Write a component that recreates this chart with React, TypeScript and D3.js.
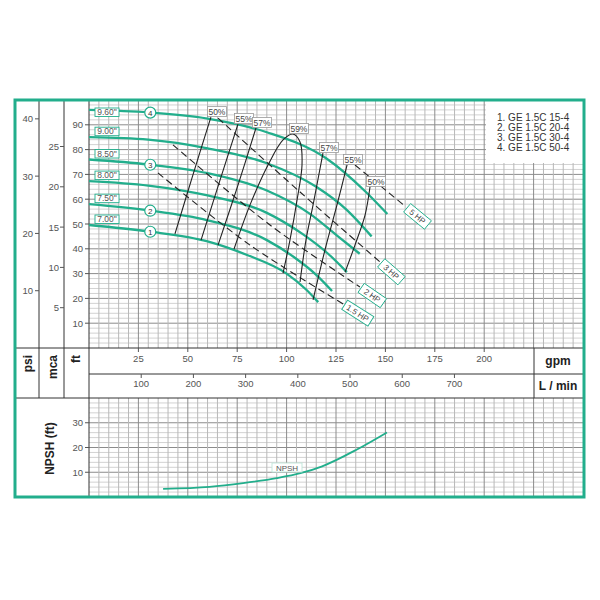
import React from 'react';
import * as d3 from 'd3';

type P = [number, number];

// ---------- data ----------
const gpmTicks = [25, 50, 75, 100, 125, 150, 175, 200];
const lminTicks = [100, 200, 300, 400, 500, 600, 700];
const psiTicks = [10, 20, 30, 40];
const mcaTicks = [5, 10, 15, 20, 25];
const ftTicks = [10, 20, 30, 40, 50, 60, 70, 80, 90];
const npshTicks = [10, 20, 30];

const diameters = ['9.60"', '9.00"', '8.50"', '8.00"', '7.50"', '7.00"'];
const curveNumbers = ['4', '', '3', '', '2', '1'];

const curve960: P[] = [[0, 96], [30, 95], [60, 92.5], [90, 87], [120, 76.5], [140, 63], [151, 54]];
const curve900: P[] = [[0, 85], [30, 84], [60, 80.5], [90, 74.5], [115, 65], [130, 56], [143, 45]];
const curve850: P[] = [[0, 76], [30, 74], [60, 70.5], [90, 63.5], [112, 54], [126, 45], [137, 38]];
const curve800: P[] = [[0, 67.3], [30, 65.5], [60, 61.5], [90, 54.5], [108, 46], [121, 38], [130.5, 30.6]];
const curve750: P[] = [[0, 58], [30, 55.5], [60, 51.5], [90, 43.5], [104, 36.5], [115, 29.5], [123, 23]];
const curve700: P[] = [[0, 49.6], [30, 47], [60, 43], [80, 37.5], [100, 30], [110, 23.5], [116, 18.5]];
const headCurves = [curve960, curve900, curve850, curve800, curve750, curve700];

const effLabels = ['50%', '55%', '57%', '59%', '57%', '55%', '50%'];
const eff50L: P[] = [[61.7, 93.1], [52.6, 69.8], [43.5, 46]];
const eff55L: P[] = [[75.4, 90.3], [66.3, 67.7], [56.7, 43.5]];
const eff57L: P[] = [[84.5, 88.7], [75.4, 65.7], [65.3, 41.5]];
const eff59: P[] = [[73.4, 39.9], [81.5, 57.7], [90.6, 73.8], [98.2, 83.9], [103.2, 86.3], [106.8, 83.1], [107.8, 73.8], [105.3, 59.7], [101.7, 43.5], [98.2, 30.2]];
const eff57R: P[] = [[118.4, 78.6], [113.4, 57.7], [109.8, 43.5], [106.8, 26.6]];
const eff55R: P[] = [[130.6, 73.8], [125.5, 57.7], [119.4, 39.5], [113.4, 19.4]];
const eff50R: P[] = [[142.2, 64.9], [139.7, 53.6], [134.6, 41.5], [129.6, 30.6]];
const effCurves = [eff50L, eff55L, eff57L, eff59, eff57R, eff55R, eff50R];

const hpLabels = ['5 HP', '3 HP', '2 HP', '1.5 HP'];
const hp5: P[] = [[134.6, 73.8], [160.4, 56.9]];
const hp3: P[] = [[65.3, 92.7], [106.8, 62.9], [147.3, 34.7]];
const hp2: P[] = [[42.5, 81.9], [91.6, 49.6], [137.1, 24.6]];
const hp15: P[] = [[34.9, 70.6], [81.5, 41.5], [129.6, 17.3]];
const hpCurves = [hp5, hp3, hp2, hp15];

const npshCurve: P[] = [[37.5, 3.3], [61, 4.1], [78, 5.6], [95, 7.6], [107, 9.6], [118, 12.4], [135.6, 19.2], [150.8, 26.1]];

const legendItems = ['1. GE 1.5C 15-4', '2. GE 1.5C 20-4', '3. GE 1.5C 30-4', '4. GE 1.5C 50-4'];

// ---------- styles ----------
const GREEN = '#22ae8c';
const FONT = 'Liberation Sans, Arial, sans-serif';
const TXT = '#555';

export default function App() {
  const L = 89, R = 583, TOP = 100, BOT = 348;
  const NTOP = 398, NBOT = 497;
  const x = d3.scaleLinear().domain([0, 250]).range([L, R]);
  const xL = d3.scaleLinear().domain([0, 250 * 3.785]).range([L, R]);
  const yFt = d3.scaleLinear().domain([0, 100]).range([BOT, TOP]);
  const yPsi = d3.scaleLinear().domain([0, 100 / 2.31]).range([BOT, TOP]);
  const yMca = d3.scaleLinear().domain([0, 100 / 3.25]).range([BOT, TOP]);
  const yN = d3.scaleLinear().domain([0, 40]).range([NBOT, NTOP]);

  const lineHead = d3.line<P>().x(d => x(d[0])).y(d => yFt(d[1])).curve(d3.curveMonotoneX);
  const lineFt = d3.line<P>().x(d => x(d[0])).y(d => yFt(d[1])).curve(d3.curveCatmullRom.alpha(0.5));
  const lineN = d3.line<P>().x(d => x(d[0])).y(d => yN(d[1])).curve(d3.curveMonotoneX);

  const vGrid = d3.range(5, 250, 5);
  const hGrid = d3.range(2, 100, 2);
  const nGrid = d3.range(2, 40, 2);

  const interp = (pts: P[], q: number) => {
    for (let i = 0; i < pts.length - 1; i++) {
      if (q >= pts[i][0] && q <= pts[i + 1][0]) {
        const t = (q - pts[i][0]) / (pts[i + 1][0] - pts[i][0]);
        return pts[i][1] + t * (pts[i + 1][1] - pts[i][1]);
      }
    }
    return pts[pts.length - 1][1];
  };

  return (
    <svg width={600} height={600} style={{ position: 'absolute', left: 0, top: 0, background: '#fff' }} fontFamily={FONT}>
      <rect x={0} y={0} width={600} height={600} fill="#fff" />
      {/* main grid */}
      <g>
        {hGrid.map(v => (
          <line key={'h' + v} x1={L} x2={R} y1={yFt(v)} y2={yFt(v)} stroke={v % 10 === 0 ? '#8c8c8c' : '#d2d2d2'} strokeWidth={1} />
        ))}
        {vGrid.map(v => (
          <line key={'v' + v} x1={x(v)} x2={x(v)} y1={TOP} y2={BOT} stroke={v % 25 === 0 ? '#8c8c8c' : '#b8b8b8'} strokeWidth={1} />
        ))}
      </g>
      {/* NPSH grid */}
      <g>
        {nGrid.map(v => (
          <line key={'nh' + v} x1={L} x2={R} y1={yN(v)} y2={yN(v)} stroke={v % 10 === 0 ? '#8c8c8c' : '#d2d2d2'} strokeWidth={1} />
        ))}
        {vGrid.map(v => (
          <line key={'nv' + v} x1={x(v)} x2={x(v)} y1={NTOP} y2={NBOT} stroke={v % 25 === 0 ? '#8c8c8c' : '#b8b8b8'} strokeWidth={1} />
        ))}
      </g>
      {/* legend */}
      <rect x={486} y={101} width={97} height={62} fill="#fff" />
      {legendItems.map((t, i) => (
        <text key={t} x={497} y={121 + i * 10} fontSize={10} fill="#333">{t}</text>
      ))}

      {/* structure lines */}
      <g stroke="#333" strokeWidth={1}>
        <line x1={15} x2={584} y1={BOT} y2={BOT} />
        <line x1={L} x2={584} y1={374} y2={374} />
        <line x1={15} x2={584} y1={NTOP} y2={NTOP} />
        <line x1={39} x2={39} y1={TOP} y2={NTOP} />
        <line x1={64} x2={64} y1={TOP} y2={NTOP} />
        <line x1={L} x2={L} y1={TOP} y2={NBOT} />
        <line x1={534} x2={534} y1={BOT} y2={NTOP} />
      </g>

      {/* axes */}
      <g fontSize={9.5} fill={TXT}>
        {psiTicks.map(v => (
          <g key={'psi' + v}>
            <line x1={35} x2={39} y1={yPsi(v)} y2={yPsi(v)} stroke="#555" />
            <text x={33} y={yPsi(v) + 3.5} textAnchor="end">{v}</text>
          </g>
        ))}
        {mcaTicks.map(v => (
          <g key={'mca' + v}>
            <line x1={60} x2={64} y1={yMca(v)} y2={yMca(v)} stroke="#555" />
            <text x={59} y={yMca(v) + 3.5} textAnchor="end">{v}</text>
          </g>
        ))}
        {ftTicks.map(v => (
          <g key={'ft' + v}>
            <line x1={85} x2={89} y1={yFt(v)} y2={yFt(v)} stroke="#555" />
            <text x={83} y={yFt(v) + 3.5} textAnchor="end">{v}</text>
          </g>
        ))}
        {npshTicks.map(v => (
          <g key={'n' + v}>
            <line x1={85} x2={89} y1={yN(v)} y2={yN(v)} stroke="#555" />
            <text x={83} y={yN(v) + 3.5} textAnchor="end">{v}</text>
          </g>
        ))}
        {gpmTicks.map(v => (
          <g key={'g' + v}>
            <line x1={x(v)} x2={x(v)} y1={BOT} y2={BOT + 4} stroke="#555" />
            <text x={x(v)} y={361.5} textAnchor="middle">{v}</text>
          </g>
        ))}
        {lminTicks.map(v => (
          <g key={'l' + v}>
            <line x1={xL(v)} x2={xL(v)} y1={374} y2={378} stroke="#555" />
            <text x={xL(v)} y={387} textAnchor="middle">{v}</text>
          </g>
        ))}
      </g>

      {/* axis titles */}
      <g fontSize={12} fontWeight="bold" fill="#222">
        <text transform="translate(31.5,355) rotate(-90)" textAnchor="end">psi</text>
        <text transform="translate(56.5,355) rotate(-90)" textAnchor="end">mca</text>
        <text transform="translate(79.5,355) rotate(-90)" textAnchor="end">ft</text>
        <text transform="translate(54,448.5) rotate(-90)" textAnchor="middle">NPSH (ft)</text>
        <text x={558} y={365} textAnchor="middle">gpm</text>
        <text x={558} y={390} textAnchor="middle">L / min</text>
      </g>

      {/* head curves */}
      {headCurves.map((c, i) => (
        <path key={'hc' + i} d={lineHead(c) || ''} fill="none" stroke={GREEN} strokeWidth={2.3} />
      ))}

      {/* HP dashed lines */}
      {hpCurves.map((c, i) => (
        <path key={'hp' + i} d={lineFt(c) || ''} fill="none" stroke="#222" strokeWidth={1.1} strokeDasharray="7,4" />
      ))}

      {/* efficiency lines */}
      {effCurves.map((c, i) => (
        <path key={'ef' + i} d={lineFt(c) || ''} fill="none" stroke="#222" strokeWidth={1.1} />
      ))}

      {/* efficiency labels */}
      {effCurves.map((c, i) => {
        const top = c.reduce((a, b) => (b[1] > a[1] ? b : a), c[0]);
        const cx = x(top[0]) + 6;
        const cy = yFt(top[1]) - 5.5;
        return (
          <g key={'el' + i}>
            <rect x={cx - 9.5} y={cy - 5} width={19} height={10} fill="#fff" stroke="#999" strokeWidth={0.8} />
            <text x={cx} y={cy + 3.2} fontSize={8.5} textAnchor="middle" fill="#444">{effLabels[i]}</text>
          </g>
        );
      })}

      {/* HP labels */}
      {hpCurves.map((c, i) => {
        const a = c[c.length - 2], b = c[c.length - 1];
        const dx = x(b[0]) - x(a[0]), dy = yFt(b[1]) - yFt(a[1]);
        const len = Math.hypot(dx, dy);
        const ang = (Math.atan2(dy, dx) * 180) / Math.PI;
        const cx = x(b[0]) + (dx / len) * 15;
        const cy = yFt(b[1]) + (dy / len) * 15;
        const w = hpLabels[i].length > 4 ? 31 : 27;
        return (
          <g key={'hl' + i} transform={`translate(${cx},${cy}) rotate(${ang})`}>
            <rect x={-w / 2} y={-5.5} width={w} height={11} fill="#fff" stroke={GREEN} strokeWidth={0.9} />
            <text x={0} y={3} fontSize={8} textAnchor="middle" fill="#444">{hpLabels[i]}</text>
          </g>
        );
      })}

      {/* diameter labels */}
      {headCurves.map((c, i) => {
        const cy = yFt(c[0][1]);
        const yt = Math.max(cy - 10, 108);
        return (
          <g key={'dl' + i}>
            <rect x={95} y={yt} width={24} height={8.5} fill="#fff" stroke={GREEN} strokeWidth={0.9} />
            <text x={107} y={yt + 7} fontSize={8.5} textAnchor="middle" fill="#555">{diameters[i]}</text>
          </g>
        );
      })}

      {/* curve number circles */}
      {headCurves.map((c, i) => curveNumbers[i] ? (
        <g key={'cn' + i}>
          <circle cx={x(31)} cy={yFt(interp(c, 31))} r={5.5} fill="#fff" stroke={GREEN} strokeWidth={1.2} />
          <text x={x(31)} y={yFt(interp(c, 31)) + 3} fontSize={8} textAnchor="middle" fill="#333">{curveNumbers[i]}</text>
        </g>
      ) : null)}

      {/* NPSH curve */}
      <path d={lineN(npshCurve) || ''} fill="none" stroke={GREEN} strokeWidth={1.8} />
      <rect x={272} y={463} width={30} height={9} fill="#fff" stroke="#bfe6da" strokeWidth={0.9} />
      <text x={287} y={470.5} fontSize={8} textAnchor="middle" fill="#555">NPSH</text>

      {/* outer border */}
      <rect x={15} y={100} width={569} height={397} fill="none" stroke={GREEN} strokeWidth={3} />
    </svg>
  );
}
